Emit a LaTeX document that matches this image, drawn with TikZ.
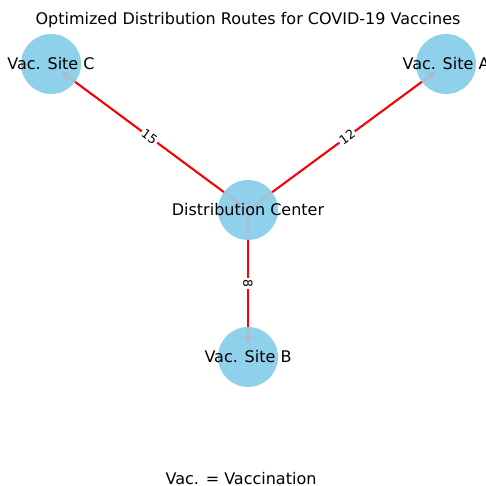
\documentclass[tikz,border=0pt]{standalone}
\usepackage{fontspec}
\setmainfont{DejaVu Sans}
\usetikzlibrary{arrows.meta}
\definecolor{siteblue}{HTML}{8FD0EB}
\definecolor{flowgray}{RGB}{172,188,204}
\begin{document}
\begin{tikzpicture}[x=1pt, y=-1pt,
  site/.style={circle, fill=siteblue, minimum size=60pt, inner sep=0pt},
  route/.style={red, line width=2pt},
  flow/.style={flowgray, line width=2pt, -{Triangle[length=9pt,width=7pt]}, shorten >=12pt},
  cost/.style={fill=white, text=black, inner sep=1.5pt, font=\fontsize{12.5}{14}\selectfont, sloped},
  txt/.style={font=\fontsize{16}{18}\selectfont}]
\useasboundingbox (0,0) rectangle (486,486);
% sites
\node[site] (dc) at (248,210){};
\node[site] (siteA) at (446,64){};
\node[site] (siteB) at (248,357){};
\node[site] (siteC) at (51,64){};
% flows under the routes
\draw[flow](dc.center) -- (siteA.center);
\draw[flow](dc.center) -- (siteB.center);
\draw[flow](dc.center) -- (siteC.center);
% routes
\draw[route](dc) -- node[cost]{12} (siteA);
\draw[route](dc) -- node[cost]{8} (siteB);
\draw[route](dc) -- node[cost]{15} (siteC);
% names
\node[txt] (dcName) at (dc){Distribution Center};
\node[txt] (siteAName) at (siteA){Vac. Site A};
\node[txt] (siteBName) at (siteB){Vac. Site B};
\node[txt] (siteCName) at (siteC){Vac. Site C};
\node[txt] (title) at (248,20){Optimized Distribution Routes for COVID-19 Vaccines};
\node[txt] (note) at (241,479){Vac. = Vaccination};
\end{tikzpicture}
\end{document}
